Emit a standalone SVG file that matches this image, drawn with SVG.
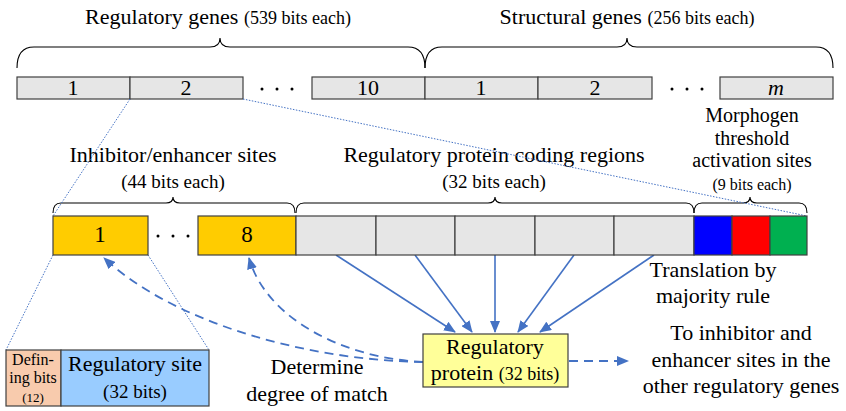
<svg xmlns="http://www.w3.org/2000/svg" width="846" height="411" viewBox="0 0 846 411" font-family="'Liberation Serif', 'Times New Roman', Times, 'DejaVu Serif', serif">
<defs>
<style>
text{font-family:"Liberation Serif","Times New Roman",Times,"DejaVu Serif",serif;fill:#000;}
.t22{font-size:22px;}
.t18{font-size:18px;}
.mid{text-anchor:middle;}
.box{stroke:#404040;stroke-width:1.2;}
.gray{fill:#E6E6E6;}
.yel{fill:#FFCC00;}
.brace{fill:none;stroke:#000;stroke-width:1.1;}
.dot{fill:#000;}
.dotted{fill:none;stroke:#4472C4;stroke-width:1;stroke-dasharray:1.5 1.5;}
.solid{fill:none;stroke:#4472C4;stroke-width:1.6;marker-end:url(#ah);}
.dash{fill:none;stroke:#4472C4;stroke-width:1.8;stroke-dasharray:9 6;marker-end:url(#ah);}
</style>
<marker id="ah" viewBox="0 0 12 10" refX="11" refY="5" markerWidth="12" markerHeight="10" markerUnits="userSpaceOnUse" orient="auto">
<path d="M0,0 L12,5 L0,10 Z" fill="#4472C4"/>
</marker>
</defs>
<rect width="846" height="411" fill="#fff"/>

<!-- Top titles and braces -->
<g id="title-regulatory">
<text class="t22 mid" x="218" y="24">Regulatory genes <tspan class="t18">(539 bits each)</tspan></text>
<path class="brace" d="M17,68 Q17,47 34,47 L210,47 Q220,47 220,38 Q220,47 230,47 L408,47 Q425,47 425,68"/>
</g>
<g id="title-structural">
<text class="t22 mid" x="627" y="24">Structural genes <tspan class="t18">(256 bits each)</tspan></text>
<path class="brace" d="M425,68 Q425,47 442,47 L617,47 Q627,47 627,38 Q627,47 637,47 L816,47 Q833,47 833,68"/>
</g>

<!-- Top row genes -->
<g id="gene-reg-1"><rect class="box gray" x="17" y="77" width="113" height="22"/><text class="t22 mid" x="73" y="95">1</text></g>
<g id="gene-reg-2"><rect class="box gray" x="130" y="77" width="113" height="22"/><text class="t22 mid" x="186" y="95">2</text></g>
<g id="dots-top-1"><circle class="dot" cx="262" cy="89" r="1.5"/><circle class="dot" cx="277" cy="89" r="1.5"/><circle class="dot" cx="292" cy="89" r="1.5"/></g>
<g id="gene-reg-10"><rect class="box gray" x="312" y="77" width="113" height="22"/><text class="t22 mid" x="368" y="95">10</text></g>
<g id="gene-str-1"><rect class="box gray" x="425" y="77" width="113" height="22"/><text class="t22 mid" x="481" y="95">1</text></g>
<g id="gene-str-2"><rect class="box gray" x="538" y="77" width="114" height="22"/><text class="t22 mid" x="595" y="95">2</text></g>
<g id="dots-top-2"><circle class="dot" cx="672" cy="89" r="1.5"/><circle class="dot" cx="687" cy="89" r="1.5"/><circle class="dot" cx="702" cy="89" r="1.5"/></g>
<g id="gene-str-m"><rect class="box gray" x="720" y="77" width="113" height="22"/><text class="t22 mid" x="776" y="95" font-style="italic">m</text></g>

<!-- Middle labels and braces -->
<g id="label-inhibitor">
<text class="t22 mid" x="173" y="162">Inhibitor/enhancer sites</text>
<text class="mid" x="173" y="188" style="font-size:19px">(44 bits each)</text>
<path class="brace" d="M53,213 Q53,203 61,203 L166,203 Q173,203 173,197 Q173,203 180,203 L287,203 Q295,203 295,213"/>
</g>
<g id="label-coding">
<text class="t22 mid" x="494" y="162">Regulatory protein coding regions</text>
<text class="mid" x="494" y="188" style="font-size:19px">(32 bits each)</text>
<path class="brace" d="M296,213 Q296,203 304,203 L488,203 Q495,203 495,197 Q495,203 502,203 L686,203 Q694,203 694,213"/>
</g>
<g id="label-morphogen">
<text class="mid" x="752" y="122" style="font-size:20px">Morphogen</text>
<text class="mid" x="752" y="145" style="font-size:20px">threshold</text>
<text class="mid" x="752" y="167" style="font-size:20px">activation sites</text>
<text class="mid" x="752" y="190" style="font-size:16px">(9 bits each)</text>
<path class="brace" d="M694,213 Q694,203 702,203 L743,203 Q750,203 750,197 Q750,203 757,203 L799,203 Q807,203 807,213"/>
</g>

<!-- Connectors -->
<g id="connectors">
<line class="dotted" x1="130" y1="99" x2="53" y2="216"/>
<line class="dotted" x1="243" y1="99" x2="807" y2="216"/>
<line class="dotted" x1="53" y1="255" x2="6" y2="350"/>
<line class="dotted" x1="148" y1="255" x2="209" y2="350"/>
<path class="solid" d="M336,255 L455,332"/>
<path class="solid" d="M415,255 L472,332"/>
<path class="solid" d="M495,255 L495,332"/>
<path class="solid" d="M574,255 L518,332"/>
<path class="solid" d="M654,255 L540,332"/>
<path class="dash" d="M423,362 C300,360 170,320 104,258"/>
<path class="dash" d="M423,362 C342,358 266,318 249,258"/>
<path class="dash" d="M569,361 L628,361"/>
</g>

<!-- Middle row -->
<g id="site-1"><rect class="box yel" x="53" y="216" width="95" height="39"/><text class="mid" x="100" y="242" style="font-size:23px">1</text></g>
<g id="dots-mid"><circle class="dot" cx="158" cy="236" r="1.5"/><circle class="dot" cx="173" cy="236" r="1.5"/><circle class="dot" cx="188" cy="236" r="1.5"/></g>
<g id="site-8"><rect class="box yel" x="198" y="216" width="98" height="39"/><text class="mid" x="247" y="242" style="font-size:23px">8</text></g>
<g id="coding-1"><rect class="box gray" x="296" y="216" width="80" height="39"/></g>
<g id="coding-2"><rect class="box gray" x="376" y="216" width="79" height="39"/></g>
<g id="coding-3"><rect class="box gray" x="455" y="216" width="80" height="39"/></g>
<g id="coding-4"><rect class="box gray" x="535" y="216" width="79" height="39"/></g>
<g id="coding-5"><rect class="box gray" x="614" y="216" width="80" height="39"/></g>
<g id="morph-blue"><rect class="box" fill="#0000FF" x="694" y="216" width="38" height="39"/></g>
<g id="morph-red"><rect class="box" fill="#FF0000" x="732" y="216" width="38" height="39"/></g>
<g id="morph-green"><rect class="box" fill="#00B050" x="770" y="216" width="37" height="39"/></g>

<!-- Regulatory protein -->
<g id="reg-protein">
<rect class="box" fill="#FFFF99" x="423" y="334" width="145" height="53"/>
<text class="t22 mid" x="495" y="354">Regulatory</text>
<text class="t22 mid" x="495" y="380">protein <tspan class="t18">(32 bits)</tspan></text>
</g>

<!-- Breakdown -->
<g id="breakdown">
<rect class="box" fill="#F8CBAD" x="6" y="350" width="55" height="56"/>
<rect class="box" fill="#99CCFF" x="61" y="350" width="148" height="56"/>
<text class="mid" x="33" y="365" style="font-size:16px">Defin-</text>
<text class="mid" x="33" y="383" style="font-size:16px">ing bits</text>
<text class="mid" x="33" y="402" style="font-size:13px">(12)</text>
<text class="t22 mid" x="135" y="371">Regulatory site</text>
<text class="mid" x="135" y="398" style="font-size:19px">(32 bits)</text>
</g>

<!-- Free labels -->
<g id="label-translation">
<text class="t22 mid" x="713" y="277">Translation by</text>
<text class="t22 mid" x="713" y="303">majority rule</text>
</g>
<g id="label-target">
<text class="t22 mid" x="741" y="340">To inhibitor and</text>
<text class="t22 mid" x="741" y="367">enhancer sites in the</text>
<text class="t22 mid" x="741" y="393">other regulatory genes</text>
</g>
<g id="label-match">
<text class="t22 mid" x="317" y="374">Determine</text>
<text class="t22 mid" x="317" y="401">degree of match</text>
</g>
</svg>
